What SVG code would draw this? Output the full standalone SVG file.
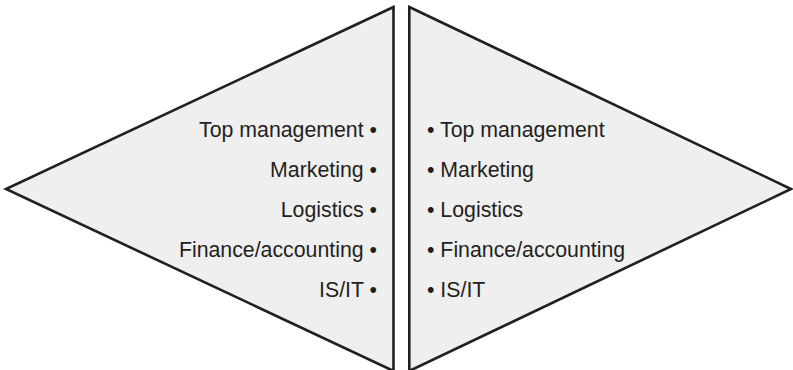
<svg xmlns="http://www.w3.org/2000/svg" width="793" height="370" viewBox="0 0 793 370">
<style>
.tri{fill:#efefef;stroke:#231f20;stroke-width:2.6;stroke-linejoin:miter}
.t{font-family:"Liberation Sans",Arial,sans-serif;font-size:21.3px;fill:#231f20}
.l{text-anchor:end}
</style>
<rect width="793" height="370" fill="#ffffff"/>
<g id="left-triangle">
<polygon class="tri" points="393.5,7 6,189 393.5,371"/>
<text class="t l" x="377" y="137">Top management •</text>
<text class="t l" x="377" y="176.5">Marketing •</text>
<text class="t l" x="377" y="216.5">Logistics •</text>
<text class="t l" x="377" y="256.5">Finance/accounting •</text>
<text class="t l" x="377" y="296.5">IS/IT •</text>
</g>
<g id="right-triangle">
<polygon class="tri" points="409.3,7 791,189 409.3,371"/>
<text class="t" x="427" y="137">• Top management</text>
<text class="t" x="427" y="176.5">• Marketing</text>
<text class="t" x="427" y="216.5">• Logistics</text>
<text class="t" x="427" y="256.5">• Finance/accounting</text>
<text class="t" x="427" y="296.5">• IS/IT</text>
</g>
<g id="connectors"></g>
</svg>
